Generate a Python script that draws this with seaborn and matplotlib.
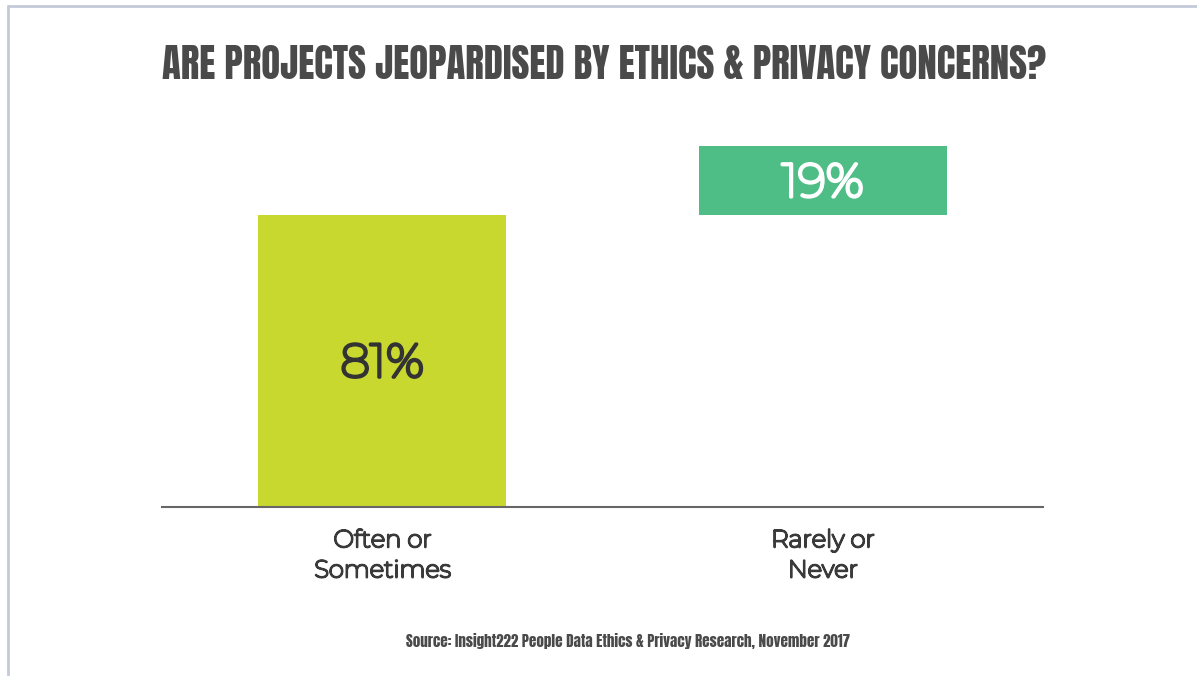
import matplotlib
matplotlib.use("Agg")
import matplotlib.pyplot as plt
import matplotlib.patheffects as pe
import seaborn as sns
import pandas as pd
from matplotlib.lines import Line2D
from matplotlib import font_manager

categories = ["Often or\nSometimes", "Rarely or\nNever"]
values = [81, 19]
bottoms = [0, 81]
labels = ["81%", "19%"]
colors = ["#c9d82f", "#4fbd86"]
label_colors = ["#333333", "#ffffff"]
title = "ARE PROJECTS JEOPARDISED BY ETHICS & PRIVACY CONCERNS?"
source = "Source: Insight222 People Data Ethics & Privacy Research, November 2017"

sns.set_theme(style="white")
names = {f.name for f in font_manager.fontManager.ttflist}
title_font = next((n for n in ["Anton", "Bebas Neue", "Oswald"] if n in names), "DejaVu Sans")
src_font = next((n for n in ["Anton", "Oswald", "Roboto Condensed"] if n in names), "DejaVu Sans")
body = "Montserrat" if "Montserrat" in names else "DejaVu Sans"
plt.rcParams["font.family"] = [body, "DejaVu Sans"]


def thick(color, w, font=body, need="Montserrat"):
    return [pe.withStroke(linewidth=w, foreground=color)] if font == need else []


fig = plt.figure(figsize=(11.97, 6.76), dpi=100)
ax = fig.add_axes([0.1353, 0.25, 0.736, 0.5333])

df = pd.DataFrame({"cat": categories, "top": [b + v for b, v in zip(bottoms, values)]})
sns.barplot(data=df, x="cat", y="top", hue="cat", palette=colors, legend=False,
            width=0.563, saturation=1, ax=ax)
for p, b, v in zip(ax.patches, bottoms, values):
    p.set_y(b)
    p.set_height(v)
    p.set_edgecolor("none")

for i, (b, v, lab, lc) in enumerate(zip(bottoms, values, labels, label_colors)):
    ax.text(i, b + v / 2 - 0.8, lab, ha="center", va="center", fontsize=34, color=lc,
            path_effects=thick(lc, 2.4))

ax.set_xlim(-0.5, 1.5)
ax.set_ylim(0, 100)
for s in ["top", "right", "left"]:
    ax.spines[s].set_visible(False)
ax.spines["bottom"].set_color("#666666")
ax.spines["bottom"].set_linewidth(1.5)
ax.set_yticks([])
ax.set_xlabel("")
ax.set_ylabel("")
ax.tick_params(axis="x", length=0, pad=16, labelsize=17.5, labelcolor="#3a3a3a")
for t in ax.get_xticklabels():
    t.set_linespacing(1.4)
    t.set_path_effects(thick("#3a3a3a", 1.5))

if title_font == "Anton":
    tsize = 27.9
elif title_font == "Bebas Neue":
    tsize = 34.5
else:
    tsize = 19
fig.text(0.505, 0.904, title, ha="center", va="center", fontsize=tsize,
         fontweight="bold", fontstretch="condensed", family=[title_font, "DejaVu Sans"],
         color="#4a4a4a",
         path_effects=[pe.withStroke(linewidth=1.6, foreground="#4a4a4a")] if title_font == "Bebas Neue" else [])
fig.text(0.525, 0.052, source, ha="center", va="center",
         fontsize=10.8 if src_font == "Anton" else 8.5,
         fontweight="bold", style="italic", fontstretch="condensed",
         family=[src_font, "DejaVu Sans"], color="#4a4a4a")

fig.add_artist(Line2D([8 / 1197, 8 / 1197], [0, 1 - 6 / 676], color="#c3cad8", lw=2))
fig.add_artist(Line2D([8 / 1197, 1], [1 - 6 / 676, 1 - 6 / 676], color="#c3cad8", lw=2))

fig.savefig("out.png", dpi=100)
